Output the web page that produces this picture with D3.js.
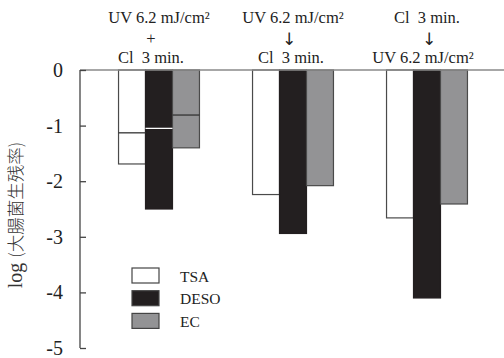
<!DOCTYPE html>
<html><head><meta charset="utf-8">
<script src="https://cdn.jsdelivr.net/npm/d3@7"></script>
<style>
html,body{margin:0;padding:0;background:#fff;}
svg{display:block;}
text{white-space:pre;}
</style></head>
<body>
<svg id="chart" width="504" height="358"></svg>
<script>
// Treatment sequences (each label drawn as stacked lines above its group)
const treatments = ["UV+Cl", "UV→Cl", "Cl→UV"];
const treatmentLines = [
  ["UV 6.2 mJ/cm²", "+", "Cl  3 min."],
  ["UV 6.2 mJ/cm²", "↓\uFE0E", "Cl  3 min."],
  ["Cl  3 min.", "↓\uFE0E", "UV 6.2 mJ/cm²"]
];
// Culture media
const media = ["TSA", "DESO", "EC"];
// log survival ratio per medium, one value per treatment
const tsa  = [-1.69, -2.24, -2.66];
const deso = [-2.50, -2.94, -4.10];
const ec   = [-1.40, -2.08, -2.41];
// UV-alone level marked inside the simultaneous-treatment bars
const uvAlone = [-1.13, -1.05, -0.81];
const yTicks = [0, -1, -2, -3, -4, -5];

const fills = {TSA: "#ffffff", DESO: "#231f20", EC: "#939395"};
const seriesVals = {TSA: tsa, DESO: deso, EC: ec};

const svg = d3.select("#chart");
const serif = "'Liberation Serif','Times New Roman',serif";

const y = d3.scaleLinear().domain([0, -5]).range([70, 348]);
const x0 = d3.scaleBand().domain(treatments).range([92, 494])
  .paddingInner(0.396).paddingOuter(0.198);
const x1 = d3.scaleBand().domain(media).range([0, x0.bandwidth()]).padding(0);

// bars
const rows = [];
treatments.forEach((t, i) => media.forEach(m => rows.push({t, m, v: seriesVals[m][i]})));
svg.append("g").selectAll("rect").data(rows).join("rect")
  .attr("x", d => x0(d.t) + x1(d.m))
  .attr("y", y(0))
  .attr("width", x1.bandwidth())
  .attr("height", d => y(d.v) - y(0))
  .attr("fill", d => fills[d.m])
  .attr("stroke", d => d.m === "DESO" ? "#231f20" : "#4a4a4a")
  .attr("stroke-width", 1.2);

// UV-alone divider lines in the first group
svg.append("g").selectAll("line").data(media.map((m, k) => ({m, v: uvAlone[k]}))).join("line")
  .attr("x1", d => x0(treatments[0]) + x1(d.m))
  .attr("x2", d => x0(treatments[0]) + x1(d.m) + x1.bandwidth())
  .attr("y1", d => y(d.v)).attr("y2", d => y(d.v))
  .attr("stroke", d => d.m === "DESO" ? "#ffffff" : "#333")
  .attr("stroke-width", 1.3);

// zero baseline across the plot
svg.append("line").attr("x1", 80).attr("x2", 504)
  .attr("y1", y(0)).attr("y2", y(0))
  .attr("stroke", "#8a8a8a").attr("stroke-width", 1.6);

// y axis with inward ticks
const yAxis = d3.axisRight(y).tickValues(yTicks).tickSize(6).tickFormat("");
const ga = svg.append("g").attr("transform", "translate(80,0)").call(yAxis);
ga.select(".domain").attr("stroke", "#444").attr("stroke-width", 1.3).attr("d", `M0,${y(0)}V${y(-5)}`);
ga.selectAll(".tick line").attr("stroke", "#444").attr("stroke-width", 1.3);

svg.append("g").selectAll("text").data(yTicks).join("text")
  .attr("x", 63).attr("y", d => y(d) + 7)
  .attr("text-anchor", "end")
  .attr("font-family", serif).attr("font-size", 20).attr("fill", "#222")
  .text(d => d === 0 ? "0" : "-" + Math.abs(d));

// y label
const yl = svg.append("text")
  .attr("transform", "translate(22,215) rotate(-90)")
  .attr("text-anchor", "middle").attr("fill", "#333");
yl.append("tspan").attr("font-family", serif).attr("font-size", 20).text("log ");
yl.append("tspan").attr("font-family", "'Noto Sans CJK JP',sans-serif").attr("font-weight", 300).attr("font-size", 17.5).text("(大腸菌生残率)");

// treatment labels above the groups
const lineDx = [[0, -8, -8], [0, -4, -2], [0, 2, -4]];
treatments.forEach((t, i) => {
  const cx = x0(t) + x0.bandwidth() / 2;
  treatmentLines[i].forEach((s, j) => {
    const isArrow = s.startsWith("↓");
    svg.append("text")
      .attr("x", cx + lineDx[i][j])
      .attr("y", [23, isArrow ? 45 : 44, 63][j])
      .attr("text-anchor", "middle")
      .attr("font-family", isArrow ? "'DejaVu Sans'" : serif)
      .attr("font-size", isArrow ? 17 : 16.5)
      .attr("fill", "#222")
      .text(s);
  });
});

// legend
const lg = svg.append("g").selectAll("g").data(media).join("g")
  .attr("transform", (d, i) => `translate(132,${268 + i * 22.7})`);
lg.append("rect").attr("width", 27).attr("height", 15)
  .attr("fill", d => fills[d]).attr("stroke", "#444").attr("stroke-width", 1.2);
lg.append("text").attr("x", 48).attr("y", 13.5)
  .attr("font-family", serif).attr("font-size", 15.5).attr("fill", "#222")
  .text(d => d);
</script>
</body></html>
